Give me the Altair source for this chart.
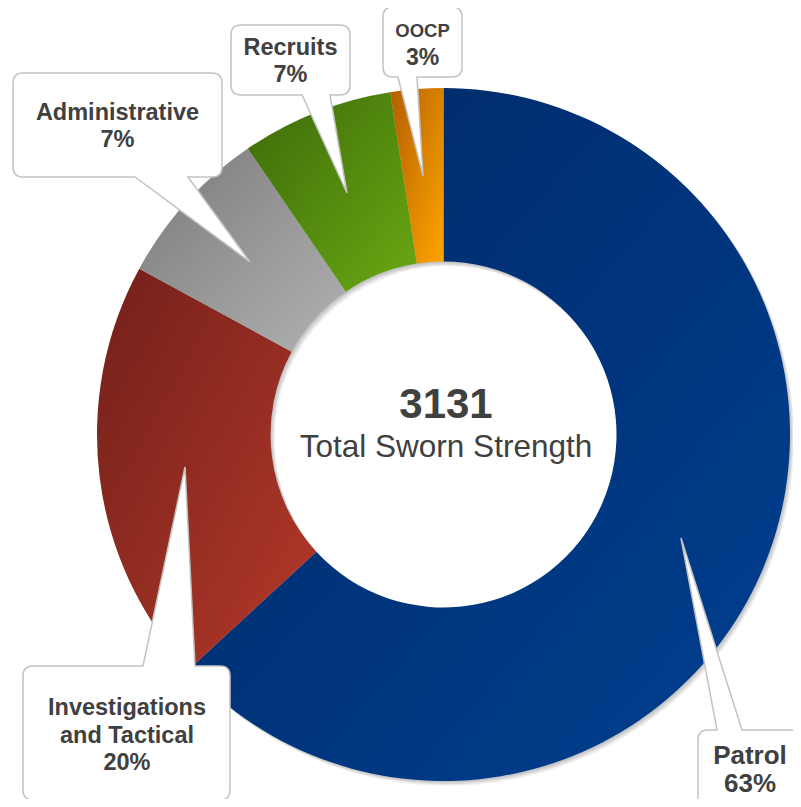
import math
import altair as alt
import pandas as pd

# ---------------- data ----------------
categories = ["Patrol", "Investigations and Tactical", "Administrative", "Recruits", "OOCP"]
counts = [1977, 620, 235, 222, 77]
pct_labels = ["63%", "20%", "7%", "7%", "3%"]
total_label = "3131"
center_caption = "Total Sworn Strength"
callout_names = {
    "Patrol": ["Patrol"],
    "Investigations and Tactical": ["Investigations", "and Tactical"],
    "Administrative": ["Administrative"],
    "Recruits": ["Recruits"],
    "OOCP": ["OOCP"],
}

# ---------------- styles / layout ----------------
OFF = 8  # page margin
CX, CY = 443.5 - OFF, 434.5 - OFF
R_OUT, R_IN = 346.5, 173
TEXT_COLOR = "#404040"
FONT = "Liberation Sans"

gradient_colors = {
    "Patrol": ("#002864", "#004092"),
    "Investigations and Tactical": ("#72201a", "#b5392a"),
    "Administrative": ("#7a7a7a", "#b2b2b2"),
    "Recruits": ("#3c6a0a", "#6aa812"),
    "OOCP": ("#b25f00", "#ffa500"),
}

callout_layout = {
    "Patrol": dict(box=(698, 730, 801, 845), edge="top", base=(717, 742), tip=(681, 538),
                   tx=750, baselines=[764, 792], sizes=[26, 26]),
    "Investigations and Tactical": dict(box=(23, 666, 230, 800), edge="top", base=(143, 195), tip=(185, 467),
                                        tx=127, baselines=[715, 743, 770], sizes=[23.5, 23.5, 23.5]),
    "Administrative": dict(box=(13, 73, 222, 177), edge="bottom", base=(135, 188), tip=(250, 262),
                           tx=117.5, baselines=[120, 147], sizes=[23.5, 23.5]),
    "Recruits": dict(box=(231, 25, 350, 95), edge="bottom", base=(302, 330), tip=(347, 193),
                     tx=290.5, baselines=[55, 82], sizes=[23.5, 23.5]),
    "OOCP": dict(box=(383, 7, 462, 77), edge="bottom", base=(398, 417), tip=(423, 176),
                 tx=422.5, baselines=[37, 65], sizes=[18.5, 23]),
}


def callout_path(box, edge, base, tip, r=10):
    L, T, R, B = [v - OFF for v in box]
    a, b = base[0] - OFF, base[1] - OFF
    tx, ty = tip[0] - OFF, tip[1] - OFF
    p = [f"M{L + r},{T}"]
    if edge == "top":
        p += [f"L{a},{T}", f"L{tx},{ty}", f"L{b},{T}"]
    p += [f"L{R - r},{T}", f"Q{R},{T} {R},{T + r}", f"L{R},{B - r}", f"Q{R},{B} {R - r},{B}"]
    if edge == "bottom":
        p += [f"L{b},{B}", f"L{tx},{ty}", f"L{a},{B}"]
    p += [f"L{L + r},{B}", f"Q{L},{B} {L},{B - r}", f"L{L},{T + r}", f"Q{L},{T} {L + r},{T}", "Z"]
    return " ".join(p)


df = pd.DataFrame({"category": categories, "count": counts, "order": list(range(len(categories)))})
one = pd.DataFrame({"k": [0]})

base = alt.Chart(df).transform_joinaggregate(
    total="sum(count)"
).transform_window(
    cum="sum(count)", sort=[alt.SortField("order")], frame=[None, 0]
).transform_calculate(
    t0="(datum.cum - datum.count) / datum.total",
    t1="datum.cum / datum.total",
)

layers = []

# soft drop shadow of the ring
for k in [1, 2, 3, 4, 5, 6]:
    layers.append(
        alt.Chart(one).mark_arc(
            radius=R_OUT, radius2=R_IN, theta=0, theta2=2 * math.pi,
            color="#000000", opacity=0.045,
        ).encode(x=alt.value(CX + k * 0.7), y=alt.value(CY + k * 0.8))
    )

# slices, each with its own gradient
for cat in categories:
    c0, c1 = gradient_colors[cat]
    grad = alt.Gradient(
        gradient="linear",
        stops=[alt.GradientStop(offset=0, color=c0), alt.GradientStop(offset=1, color=c1)],
        x1=0, y1=0, x2=1, y2=1,
    )
    layers.append(
        base.transform_filter(alt.datum.category == cat).mark_arc(
            radius=R_OUT, radius2=R_IN, color=grad, strokeWidth=0,
        ).encode(
            theta=alt.Theta("t0:Q", scale=alt.Scale(domain=[0, 1], range=[0, 2 * math.pi]), stack=None),
            theta2=alt.Theta2("t1:Q"),
            x=alt.value(CX),
            y=alt.value(CY),
        )
    )

# callout bubbles
for cat in categories:
    lay = callout_layout[cat]
    path = callout_path(lay["box"], lay["edge"], lay["base"], lay["tip"])
    layers.append(
        alt.Chart(one).mark_point(
            shape=path, size=4, filled=True, fill="white", stroke="#c3c3c3",
            strokeWidth=1.5, opacity=1, fillOpacity=1, strokeOpacity=1,
        ).encode(x=alt.value(0), y=alt.value(0))
    )

# callout texts
rows = []
for cat, pct in zip(categories, pct_labels):
    lay = callout_layout[cat]
    lines = callout_names[cat] + [pct]
    for line, yb, s in zip(lines, lay["baselines"], lay["sizes"]):
        rows.append({"text": line, "x": lay["tx"] - OFF, "y": yb - OFF, "size": s})
tdf = pd.DataFrame(rows)
layers.append(
    alt.Chart(tdf).mark_text(
        font=FONT, fontWeight="bold", color=TEXT_COLOR, baseline="alphabetic", align="center",
    ).encode(
        x=alt.X("x:Q", scale=None, axis=None),
        y=alt.Y("y:Q", scale=None, axis=None),
        size=alt.Size("size:Q", scale=None, legend=None),
        text="text:N",
    )
)

# centre text
cdf = pd.DataFrame([
    {"text": total_label, "x": 446 - OFF, "y": 418 - OFF, "size": 42, "w": "bold"},
    {"text": center_caption, "x": 446 - OFF, "y": 457 - OFF, "size": 31.5, "w": "normal"},
])
layers.append(
    alt.Chart(cdf).transform_filter(alt.datum.w == "bold").mark_text(
        font=FONT, fontWeight="bold", color=TEXT_COLOR, baseline="alphabetic", align="center",
    ).encode(
        x=alt.X("x:Q", scale=None, axis=None),
        y=alt.Y("y:Q", scale=None, axis=None),
        size=alt.Size("size:Q", scale=None, legend=None),
        text="text:N",
    )
)
layers.append(
    alt.Chart(cdf).transform_filter(alt.datum.w == "normal").mark_text(
        font=FONT, fontWeight="normal", color=TEXT_COLOR, baseline="alphabetic", align="center",
    ).encode(
        x=alt.X("x:Q", scale=None, axis=None),
        y=alt.Y("y:Q", scale=None, axis=None),
        size=alt.Size("size:Q", scale=None, legend=None),
        text="text:N",
    )
)

chart = alt.layer(*layers).properties(
    width=785, height=791, padding=0, autosize="none", background="white"
).configure_view(strokeWidth=0)

chart.save("out.html", embed_options={"renderer": "svg", "actions": False})
